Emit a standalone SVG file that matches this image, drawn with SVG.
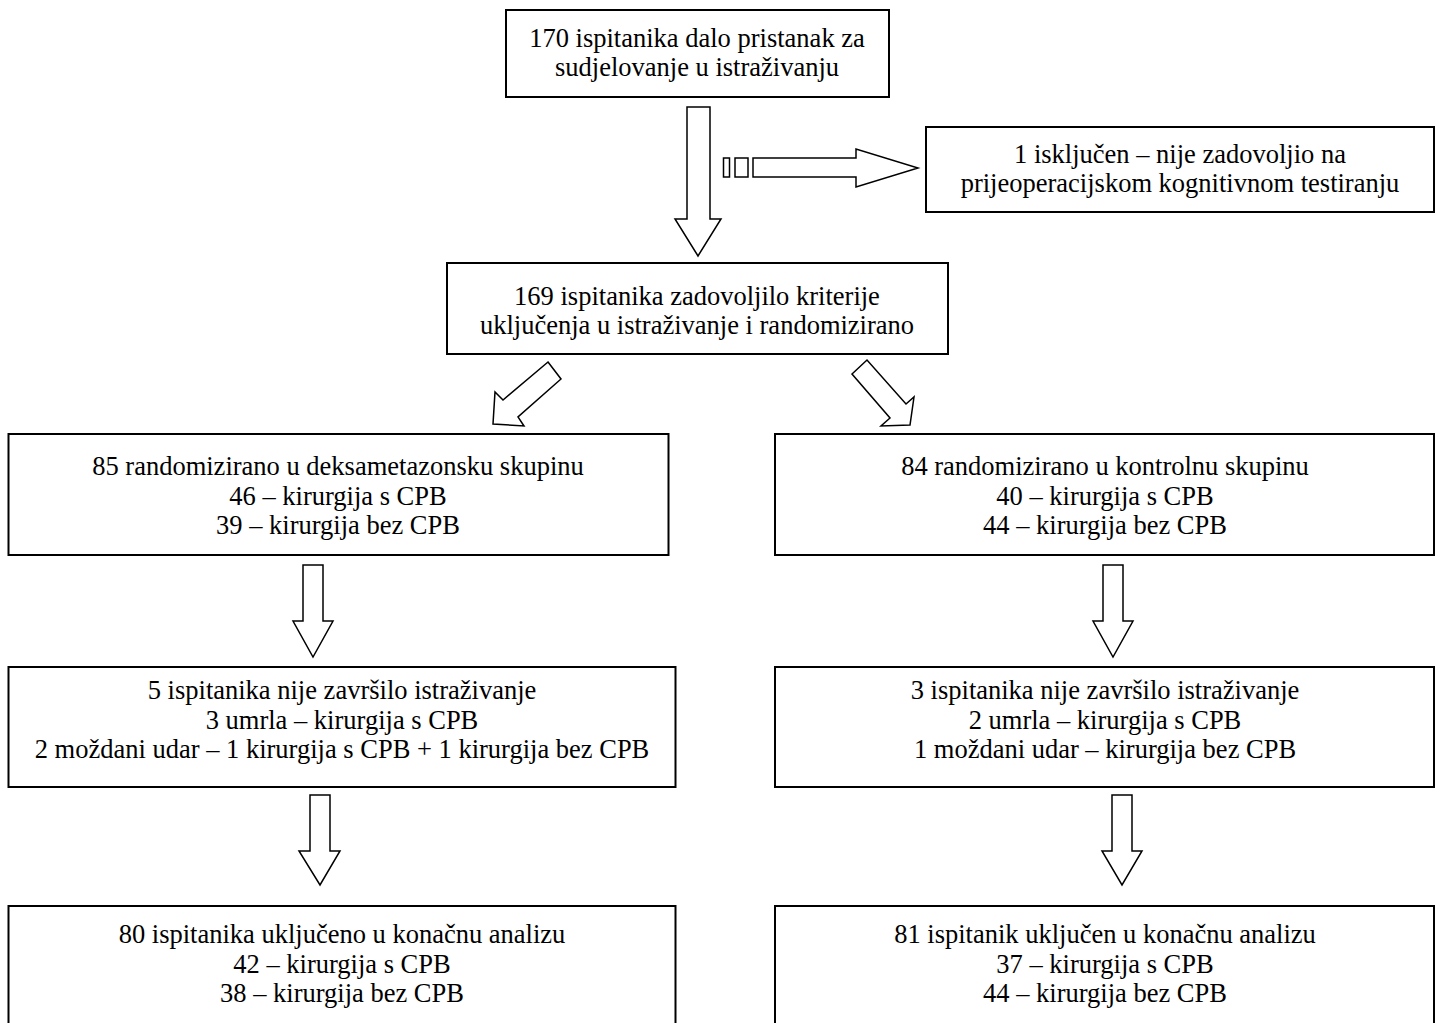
<svg xmlns="http://www.w3.org/2000/svg" width="1450" height="1023" viewBox="0 0 1450 1023">
<style>
.box{fill:#fff;stroke:#000;stroke-width:2}
.arr{fill:#fff;stroke:#000;stroke-width:1.5;stroke-linejoin:miter}
text{font-family:"Liberation Serif","Times New Roman",serif;font-size:26.5px;fill:#000;text-anchor:middle}
</style>
<rect width="1450" height="1023" fill="#fff"/>
<g id="connectors">
<polygon class="arr" points="687,107 710,107 710,219 721,219 698,256 675,219 687,219"/>
<rect class="arr" x="723.5" y="158" width="6" height="19"/>
<rect class="arr" x="735" y="158" width="13" height="19"/>
<polygon class="arr" points="753,158 856,158 856,149 918,168 856,187 856,177 753,177"/>
<polygon class="arr" points="548,362 561,379 518,417 524,426 493,424 495,392 503,400"/>
<polygon class="arr" points="852,374 867,360 906,404 914,397 910,425 881,426 890,418"/>
<polygon class="arr" points="303,565 323,565 323,621 333,621 313,657 293,621 303,621"/>
<polygon class="arr" points="1103,565 1123,565 1123,621 1133,621 1113,657 1093,621 1103,621"/>
<polygon class="arr" points="310,795 330,795 330,851 340,851 320,885 299,851 310,851"/>
<polygon class="arr" points="1112,795 1132,795 1132,851 1142,851 1122,885 1102,851 1112,851"/>
</g>
<g id="n1">
<rect class="box" x="506" y="10" width="383" height="87"/>
<text x="697" y="47">170 ispitanika dalo pristanak za</text>
<text x="697" y="76">sudjelovanje u istraživanju</text>
</g>
<g id="n2">
<rect class="box" x="926" y="127" width="508" height="85"/>
<text x="1180" y="163">1 isključen – nije zadovoljio na</text>
<text x="1180" y="192">prijeoperacijskom kognitivnom testiranju</text>
</g>
<g id="n3">
<rect class="box" x="447" y="263" width="501" height="91"/>
<text x="697" y="305">169 ispitanika zadovoljilo kriterije</text>
<text x="697" y="334">uključenja u istraživanje i randomizirano</text>
</g>
<g id="n4">
<rect class="box" x="8.5" y="434" width="660" height="121"/>
<text x="338" y="475">85 randomizirano u deksametazonsku skupinu</text>
<text x="338" y="505">46 – kirurgija s CPB</text>
<text x="338" y="534">39 – kirurgija bez CPB</text>
</g>
<g id="n5">
<rect class="box" x="775" y="434" width="659" height="121"/>
<text x="1105" y="475">84 randomizirano u kontrolnu skupinu</text>
<text x="1105" y="505">40 – kirurgija s CPB</text>
<text x="1105" y="534">44 – kirurgija bez CPB</text>
</g>
<g id="n6">
<rect class="box" x="8.5" y="667" width="667" height="120"/>
<text x="342" y="699">5 ispitanika nije završilo istraživanje</text>
<text x="342" y="729">3 umrla – kirurgija s CPB</text>
<text x="342" y="758">2 moždani udar – 1 kirurgija s CPB + 1 kirurgija bez CPB</text>
</g>
<g id="n7">
<rect class="box" x="775" y="667" width="659" height="120"/>
<text x="1105" y="699">3 ispitanika nije završilo istraživanje</text>
<text x="1105" y="729">2 umrla – kirurgija s CPB</text>
<text x="1105" y="758">1 moždani udar – kirurgija bez CPB</text>
</g>
<g id="n8">
<rect class="box" x="8.5" y="906" width="667" height="130"/>
<text x="342" y="943">80 ispitanika uključeno u konačnu analizu</text>
<text x="342" y="973">42 – kirurgija s CPB</text>
<text x="342" y="1002">38 – kirurgija bez CPB</text>
</g>
<g id="n9">
<rect class="box" x="775" y="906" width="659" height="130"/>
<text x="1105" y="943">81 ispitanik uključen u konačnu analizu</text>
<text x="1105" y="973">37 – kirurgija s CPB</text>
<text x="1105" y="1002">44 – kirurgija bez CPB</text>
</g>
</svg>
